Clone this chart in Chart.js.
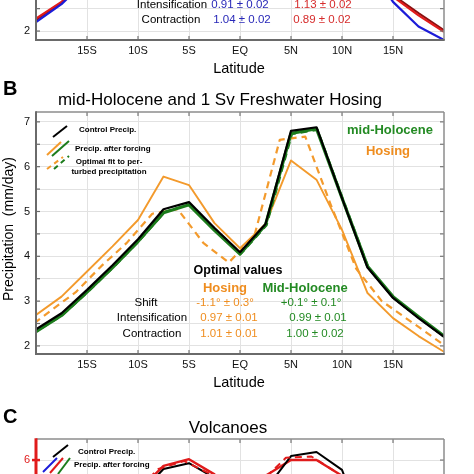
<!DOCTYPE html>
<html>
<head>
<meta charset="utf-8">
<script src="https://cdn.jsdelivr.net/npm/chart.js@4.4.1/dist/chart.umd.min.js"></script>
<style>
  html, body { margin: 0; padding: 0; background: #fff; overflow: hidden; }
  #fig { position: relative; width: 474px; height: 474px; overflow: hidden; background: #fff; }
  #fig canvas { position: absolute; left: 0; }
</style>
</head>
<body>
<div id="fig">
  <canvas id="panelA" width="474" height="320" style="top:-234px"></canvas>
  <canvas id="panelB" width="474" height="320" style="top:80px"></canvas>
  <canvas id="panelC" width="474" height="320" style="top:407px"></canvas>
</div>
<script>
const FONT = '"Liberation Sans", Arial, Helvetica, sans-serif';

// model latitudes (deg, S negative) and axis ticks
const lats = [-22.5, -20, -17.5, -15, -12.5, -10, -7.5, -5, -2.5, 0, 2.5, 5, 7.5, 10, 12.5, 15, 17.5, 20, 22.5];
const latTicks = [-15, -10, -5, 0, 5, 10, 15];
const latLabels = ['15S', '10S', '5S', 'EQ', '5N', '10N', '15N'];
const precipTicks = [1.5, 2, 2.5, 3, 3.5, 4, 4.5, 5, 5.5, 6, 6.5, 7];

// Panel A (only the bottom is in view)
const controlA = [1.95, 2.25, 2.63, 3.2, 3.8, 4.4, 5.1, 5.25, 4.7, 4.15, 4.8, 6.6, 6.7, 5.2, 3.7, 2.8, 2.4, 2.02, 1.7];
const redA = [1.95, 2.28, 2.65, 3.25, 3.85, 4.5, 5.3, 5.45, 4.8, 4.2, 4.9, 7.0, 7.1, 5.4, 3.75, 2.77, 2.35, 1.98, 1.65];
const blueA = [1.85, 2.2, 2.6, 3.15, 3.7, 4.3, 4.9, 5.05, 4.55, 4.05, 4.7, 6.3, 6.4, 4.9, 3.5, 2.65, 2.1, 1.8, 1.5];

// Panel B: mid-Holocene and 1 Sv freshwater hosing (mm/day)
const controlB = [2.05, 2.37, 2.73, 3.25, 3.8, 4.38, 5.05, 5.21, 4.63, 4.09, 4.72, 6.8, 6.88, 5.3, 3.75, 3.07, 2.62, 2.2, 1.85];
const holoceneB = [2.0, 2.32, 2.68, 3.2, 3.75, 4.33, 4.97, 5.15, 4.58, 4.05, 4.7, 6.74, 6.85, 5.3, 3.78, 3.1, 2.65, 2.22, 1.87];
const holoceneFitB = [2.0, 2.33, 2.69, 3.21, 3.76, 4.34, 4.99, 5.16, 4.6, 4.06, 4.69, 6.73, 6.82, 5.27, 3.74, 3.06, 2.62, 2.19, 1.85];
const hosingB = [2.3, 2.69, 3.1, 3.66, 4.22, 4.81, 5.78, 5.59, 4.74, 4.18, 4.72, 6.14, 5.71, 4.59, 3.18, 2.62, 2.22, 1.87, 1.55];
const hosingFitB = [2.0, 2.35, 2.78, 3.2, 3.78, 4.3, 4.95, 5.05, 4.3, 3.86, 4.45, 6.6, 6.67, 5.15, 3.72, 3.0, 2.6, 2.2, 1.79];
const holoceneShift = 0.1;
const hosingShift = -1.1;

// Panel C: volcanoes (only the top is in view)
const controlC = [1.95, 2.3, 2.7, 3.2, 3.9, 5.2, 5.8, 5.93, 5.6, 4.7, 5.34, 6.09, 6.18, 5.78, 4.3, 3.4, 2.8, 2.3, 1.95];
const volcanoC = [2.0, 2.35, 2.75, 3.25, 3.95, 5.3, 5.87, 6.02, 5.68, 4.8, 5.65, 6.0, 6.0, 5.65, 4.25, 3.35, 2.78, 2.3, 1.95];
const volcanoFitC = [2.0, 2.35, 2.75, 3.25, 3.95, 5.25, 5.8, 5.98, 5.7, 4.75, 5.5, 6.05, 6.08, 5.72, 4.3, 3.38, 2.78, 2.3, 1.95];
const volcanoShift = -0.5;

const BLACK = '#000000', GREEN = '#1c7c1c', ORANGE = '#f39a2c', BLUE = '#1c1cd8', RED = '#e01b1b';
const GREEN_TXT = '#238a23', ORANGE_TXT = '#ef8d1f', BLUE_TXT = '#2828b8', RED_TXT = '#d62c2c';

function series(label, ys, color, width, shift, dash) {
    return {
        label: label,
        data: ys.map((v, i) => ({ x: lats[i] + (shift || 0), y: v })),
        borderColor: color,
        borderWidth: width,
        borderDash: dash || [],
        pointRadius: 0,
        fill: false
    };
}

// MATLAB-like box with inward ticks
const frame = {
    id: 'frame',
    afterDatasetsDraw(chart, args, o) {
        const { ctx, chartArea: a } = chart;
        const x = chart.scales.x, y = chart.scales.y;
        const seg = (x1, y1, x2, y2, c, w) => {
            ctx.beginPath();
            ctx.strokeStyle = c;
            ctx.lineWidth = w;
            ctx.moveTo(x1, y1);
            ctx.lineTo(x2, y2);
            ctx.stroke();
        };
        ctx.save();
        x.ticks.forEach(t => {
            const px = x.getPixelForValue(t.value);
            seg(px, a.bottom, px, a.bottom - 4, '#777', 1.2);
            seg(px, a.top, px, a.top + 4, '#777', 1.2);
        });
        y.ticks.forEach(t => {
            const py = y.getPixelForValue(t.value);
            seg(a.left - o.tickOut, py, a.left + 4, py, o.leftColor, o.tickWidth);
            seg(a.right, py, a.right - 4, py, '#777', 1.2);
        });
        seg(a.left, a.top, a.right, a.top, '#8c8c8c', 1.5);
        seg(a.right, a.top, a.right, a.bottom, '#8c8c8c', 1.5);
        seg(a.left, a.bottom, a.right + 0.75, a.bottom, '#6a6a6a', 2);
        seg(a.left, a.top - 0.75, a.left, a.bottom + 1, o.leftColor, o.leftWidth);
        ctx.restore();
    }
};

// free text and legend glyphs
const notes = {
    id: 'notes',
    afterDraw(chart, args, o) {
        const ctx = chart.ctx;
        ctx.save();
        (o.marks || []).forEach(m => {
            ctx.beginPath();
            ctx.setLineDash(m.dash || []);
            ctx.strokeStyle = m.color;
            ctx.lineWidth = m.width || 2;
            ctx.moveTo(m.x1, m.y1);
            ctx.lineTo(m.x2, m.y2);
            ctx.stroke();
        });
        ctx.setLineDash([]);
        ctx.textBaseline = 'middle';
        (o.texts || []).forEach(t => {
            ctx.save();
            ctx.font = t.font;
            ctx.fillStyle = t.color || '#000';
            ctx.textAlign = t.align || 'center';
            ctx.translate(t.x, t.y);
            if (t.rotate) ctx.rotate(t.rotate);
            ctx.fillText(t.text, 0, 0);
            ctx.restore();
        });
        ctx.restore();
    }
};

function makeChart(id, datasets, yMin, yMax, tickColor, frameOpts, notesOpts) {
    return new Chart(document.getElementById(id), {
        type: 'line',
        data: { datasets: datasets },
        plugins: [frame, notes],
        options: {
            responsive: false,
            animation: false,
            devicePixelRatio: 1,
            layout: { padding: { left: 0, top: 32, right: 30, bottom: 0 } },
            elements: { line: { tension: 0, borderJoinStyle: 'round' } },
            scales: {
                x: {
                    type: 'linear',
                    min: -20,
                    max: 20,
                    afterBuildTicks: s => { s.ticks = latTicks.map(v => ({ value: v })); },
                    afterFit: s => { s.height = 46; },
                    grid: { color: '#e2e2e2', drawTicks: false },
                    border: { display: false },
                    ticks: {
                        padding: 4,
                        color: '#111',
                        maxRotation: 0,
                        autoSkip: false,
                        font: { family: FONT, size: 11 },
                        callback: v => latLabels[latTicks.indexOf(v)] || ''
                    }
                },
                y: {
                    type: 'linear',
                    min: yMin,
                    max: yMax,
                    afterBuildTicks: s => { s.ticks = precipTicks.filter(v => v >= yMin && v <= yMax).map(v => ({ value: v })); },
                    afterFit: s => { s.width = 36; },
                    grid: { color: '#e2e2e2', drawTicks: false },
                    border: { display: false },
                    ticks: {
                        padding: 6,
                        color: tickColor,
                        autoSkip: false,
                        font: { family: FONT, size: 11 },
                        callback: v => Number.isInteger(v) ? String(v) : ''
                    }
                }
            },
            plugins: {
                legend: { display: false },
                title: { display: false },
                tooltip: { enabled: false },
                frame: frameOpts,
                notes: notesOpts
            }
        }
    });
}

const f = (size, bold) => (bold ? 'bold ' : '') + size + 'px ' + FONT;
const latitudeTitle = { text: 'Latitude', x: 239, y: 303, font: f(14.5) };
const precipTitle = { text: 'Precipitation  (mm/day)', x: 9, y: 149, font: f(14), rotate: -Math.PI / 2 };

// ---- Panel A ----
makeChart('panelA', [
    series('After forcing (blue)', blueA, BLUE, 2.2),
    series('After forcing (red)', redA, RED, 2.2),
    series('Control Precip.', controlA, '#8a1010', 2)
], 1.8, 7.2, '#111', { leftColor: '#6a6a6a', leftWidth: 2, tickWidth: 1.2, tickOut: 0 }, {
    texts: [
        latitudeTitle, precipTitle,
        { text: 'Intensification', x: 172, y: 239, font: f(11.5) },
        { text: 'Contraction', x: 171, y: 254, font: f(11.5) },
        { text: '0.91 ± 0.02', x: 240, y: 239, font: f(11.5), color: BLUE_TXT },
        { text: '1.04 ± 0.02', x: 242, y: 254, font: f(11.5), color: BLUE_TXT },
        { text: '1.13 ± 0.02', x: 323, y: 239, font: f(11.5), color: RED_TXT },
        { text: '0.89 ± 0.02', x: 322, y: 254, font: f(11.5), color: RED_TXT }
    ]
});

// ---- Panel B ----
makeChart('panelB', [
    series('Control Precip.', controlB, BLACK, 2.2),
    series('mid-Holocene fit', holoceneFitB, GREEN, 2.2, holoceneShift, [7, 5]),
    series('mid-Holocene', holoceneB, GREEN, 3.2),
    series('Hosing fit', hosingFitB, ORANGE, 2.2, hosingShift, [7, 5]),
    series('Hosing', hosingB, ORANGE, 1.9)
], 1.82, 7.22, '#111', { leftColor: '#6a6a6a', leftWidth: 2, tickWidth: 1.2, tickOut: 0 }, {
    marks: [
        { x1: 53, y1: 57, x2: 67, y2: 46, color: BLACK },
        { x1: 47, y1: 75, x2: 61, y2: 62, color: ORANGE },
        { x1: 52, y1: 76, x2: 69, y2: 61, color: GREEN },
        { x1: 47, y1: 89, x2: 63, y2: 77, color: ORANGE, dash: [5, 4] },
        { x1: 54, y1: 89, x2: 69, y2: 76, color: GREEN, dash: [5, 4] }
    ],
    texts: [
        { text: 'B', x: 3, y: 9, font: f(20, true), align: 'left' },
        { text: 'mid-Holocene and 1 Sv Freshwater Hosing', x: 220, y: 20, font: f(17) },
        latitudeTitle, precipTitle,
        { text: 'Control Precip.', x: 79, y: 50, font: f(8, true), align: 'left' },
        { text: 'Precip. after forcing', x: 75, y: 69, font: f(8, true), align: 'left' },
        { text: 'Optimal fit to per-', x: 109, y: 82, font: f(8, true) },
        { text: 'turbed precipitation', x: 109, y: 92, font: f(8, true) },
        { text: 'mid-Holocene', x: 390, y: 50, font: f(13, true), color: GREEN_TXT },
        { text: 'Hosing', x: 388, y: 71, font: f(13, true), color: ORANGE_TXT },
        { text: 'Optimal values', x: 238, y: 191, font: f(12.5, true) },
        { text: 'Hosing', x: 225, y: 208, font: f(13, true), color: ORANGE_TXT },
        { text: 'Mid-Holocene', x: 305, y: 208, font: f(13, true), color: GREEN_TXT },
        { text: 'Shift', x: 146, y: 223, font: f(11.5) },
        { text: 'Intensification', x: 152, y: 238, font: f(11.5) },
        { text: 'Contraction', x: 152, y: 254, font: f(11.5) },
        { text: '-1.1° ± 0.3°', x: 225, y: 223, font: f(11.5), color: ORANGE_TXT },
        { text: '0.97 ± 0.01', x: 229, y: 238, font: f(11.5), color: ORANGE_TXT },
        { text: '1.01 ± 0.01', x: 229, y: 254, font: f(11.5), color: ORANGE_TXT },
        { text: '+0.1° ± 0.1°', x: 311, y: 223, font: f(11.5), color: GREEN_TXT },
        { text: '0.99 ± 0.01', x: 318, y: 238, font: f(11.5), color: GREEN_TXT },
        { text: '1.00 ± 0.02', x: 315, y: 254, font: f(11.5), color: GREEN_TXT }
    ]
});

// ---- Panel C ----
makeChart('panelC', [
    series('Volcanoes fit', volcanoFitC, RED, 2, volcanoShift, [7, 5]),
    series('Control Precip.', controlC, BLACK, 2),
    series('Volcanoes', volcanoC, RED, 2.4)
], 1.07, 6.47, RED, { leftColor: RED, leftWidth: 3, tickWidth: 2.5, tickOut: 4 }, {
    marks: [
        { x1: 53, y1: 50, x2: 68, y2: 38, color: BLACK },
        { x1: 43, y1: 65, x2: 57, y2: 51, color: BLUE },
        { x1: 50, y1: 66, x2: 63, y2: 51, color: RED },
        { x1: 58, y1: 67, x2: 70, y2: 51, color: GREEN }
    ],
    texts: [
        { text: 'C', x: 3, y: 10, font: f(20, true), align: 'left' },
        { text: 'Volcanoes', x: 228, y: 21, font: f(17) },
        { text: 'Control Precip.', x: 78, y: 45, font: f(8, true), align: 'left' },
        { text: 'Precip. after forcing', x: 74, y: 58, font: f(8, true), align: 'left' }
    ]
});
</script>
</body>
</html>
